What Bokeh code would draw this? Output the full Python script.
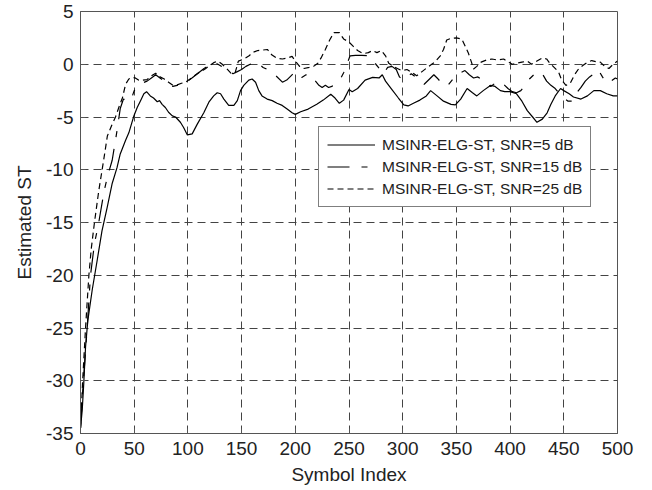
from bokeh.plotting import figure
from bokeh.models import Range1d, FixedTicker
from bokeh.embed import file_html
from bokeh.resources import INLINE

# ---- data ----
snr5 = [(0, -34.5), (1.6, -32.8), (3, -30.3), (4.7, -26.8), (6.8, -24.3), (10.9, -21.4), (15.5, -18.6),
        (20, -15.8), (24.8, -13.6), (29.5, -11.3), (34, -9.8), (37, -8.5), (42, -7.2), (45, -6.5),
        (49.7, -4.9), (52.8, -4.1), (55.9, -3.45), (59, -2.8), (61.5, -2.6), (65, -3.0), (68, -3.2),
        (71.5, -3.55), (73.6, -3.45), (76, -3.8), (79, -4.1), (82, -4.55), (85.5, -4.9), (88.5, -5.0),
        (93, -5.5), (96, -6.0), (99.5, -6.7), (104, -6.6), (108.6, -5.7), (114.8, -4.6), (119.5, -3.6),
        (124, -3.0), (127.3, -2.7), (130.4, -2.8), (133.5, -3.3), (138, -3.9), (142.8, -3.9), (146, -3.45),
        (149, -2.5), (152, -2.0), (156.7, -1.5), (159.8, -1.4), (163, -1.7), (166, -2.5), (169, -3.0),
        (173.8, -3.3), (178.5, -3.45), (183, -3.7), (187.8, -3.9), (192.4, -4.25), (197, -4.6), (200, -4.75),
        (205, -4.5), (212, -4.25), (220, -3.8), (226, -3.4), (233, -2.85), (237, -3.2), (241, -3.7),
        (245, -3.4), (250, -2.4), (253, -2.6), (258, -2.3), (265, -1.5), (272, -1.25), (278, -1.3),
        (281, -1.0), (284, -1.6), (290, -2.4), (296, -3.2), (301, -3.85), (305, -3.95), (310, -3.7),
        (316, -3.4), (322, -3.0), (326, -2.5), (332, -3.0), (338, -3.5), (345, -3.8), (349, -3.85),
        (354, -3.3), (360, -2.3), (365, -2.7), (369, -3.0), (375, -2.5), (382, -2.0), (386, -2.1),
        (391, -2.5), (395, -2.6), (400, -2.6), (406, -2.8), (411, -3.5), (416, -4.4), (421, -5.0),
        (425, -5.5), (430, -5.2), (434.5, -4.6), (438, -3.8), (442, -3.0), (447, -2.3), (450, -2.5),
        (455, -2.8), (459, -3.1), (466, -3.3), (472, -3.0), (478, -2.5), (484, -2.5), (490, -2.8),
        (496, -3.0), (500, -3.0)]

snr15 = [(0, -34.5), (2, -31), (6.2, -25), (9.3, -20), (13, -17), (17, -15), (22, -12), (25.5, -10.5),
         (29.5, -9.1), (34, -6.3), (37, -4.2), (40, -3.3), (44, -3.5), (47, -3.4), (50, -2.5), (53, -2.2),
         (57, -1.8), (62, -1.6), (66, -1.3), (70, -1.0), (74, -1.3), (78, -1.6), (82, -1.8), (86, -2.1),
         (90, -2.0), (95, -1.8), (100, -1.6), (105, -1.2), (110, -0.8), (115, -0.4), (120, -0.1), (124, 0.2),
         (128, 0.0), (133, -0.3), (138, -0.6), (142, -0.9), (146, -0.7), (150, -0.5), (154, -0.2), (158, 0.0),
         (164, 0.2), (170, -0.3), (176, -0.6), (182, -1.1), (188, -1.7), (192, -1.5), (196, -1.1), (200, -0.7),
         (203, -0.9), (206, -1.25), (210, -1.0), (214, -0.95), (218, -1.5), (222, -2.0), (225, -2.2),
         (228, -2.0), (231, -2.2), (234, -2.1), (238, -1.8), (242, -1.4), (245, -0.8), (248, 0.0), (251, 0.8),
         (256, 0.85), (262, 0.85), (268, 0.8), (271, 0.6), (275, 0.0), (279, -0.5), (282, -0.9), (286, -0.3),
         (290, -0.2), (294, -0.5), (297, -1.2), (300, -1.5), (304, -1.2), (308, -0.9), (312, -1.2), (316, -1.6),
         (320, -1.9), (325, -1.4), (329, -1.0), (333, -1.4), (338, -2.0), (342, -2.0), (346, -1.5), (350, -1.0),
         (354, -0.8), (358, -0.6), (362, -1.0), (366, -1.3), (370, -1.2), (374, -1.5), (378, -1.9), (382, -2.1),
         (386, -1.8), (390, -1.6), (394, -1.9), (398, -2.3), (402, -2.6), (406, -2.7), (410, -2.5), (414, -2.0),
         (418, -1.4), (422, -1.0), (426, -0.7), (430, -0.9), (434, -1.6), (438, -2.0), (442, -2.3), (446, -2.8),
         (450, -3.2), (454, -3.5), (458, -3.5), (462, -2.7), (466, -2.2), (470, -1.6), (474, -1.2), (478, -0.9),
         (482, -0.5), (486, -1.2), (490, -1.8), (494, -1.6), (498, -1.3), (500, -1.4)]

snr25 = [(0, -34.5), (2, -30), (4.7, -25), (7.8, -20), (10, -17.5), (13, -15), (17, -12), (21.7, -9),
         (25, -6.8), (29, -5.8), (32.6, -5.0), (36, -4.0), (39, -3.2), (42, -1.9), (45, -1.4), (48, -1.25),
         (51, -1.3), (54, -1.5), (58, -1.5), (62, -1.45), (66, -1.1), (70, -0.85), (74, -1.2), (78, -1.4),
         (82, -1.7), (86, -2.0), (90, -1.95), (94, -1.8), (98, -1.7), (102, -1.4), (106, -1.1), (110, -0.8),
         (116, -0.45), (120, -0.15), (124, 0.15), (128, 0.3), (132, 0.0), (136, -0.4), (140, -0.85),
         (144, -0.8), (147, 0.3), (152, 0.5), (157, 0.8), (160, 1.1), (165, 1.3), (170, 1.35), (174, 1.4),
         (178, 0.9), (183, 0.55), (188, 0.5), (193, 0.6), (197, 0.75), (200, 0.3), (204, -0.2), (208, -0.4),
         (213, -0.3), (217, -0.2), (221, 0.1), (224, 0.6), (228, 1.4), (232, 2.3), (236, 3.0), (241, 3.0),
         (245, 2.4), (250, 2.1), (254, 1.7), (258, 1.3), (263, 1.0), (268, 1.1), (272, 1.3), (276, 1.1),
         (280, 1.3), (284, 0.8), (287, 0.1), (291, -0.2), (295, -0.4), (299, -0.6), (304, -0.5), (309, -0.8),
         (313, -1.1), (318, -0.7), (323, -0.3), (327, 0.0), (330, 0.2), (335, 0.8), (338, 1.4), (341, 2.3),
         (345, 2.45), (350, 2.5), (355, 2.4), (358, 1.75), (361, 1.1), (364, 0.2), (366, -0.45), (369, -0.2),
         (373, 0.2), (378, 0.4), (383, 0.5), (388, 0.4), (394, 0.5), (397, 0.3), (402, 0.0), (406, 0.1),
         (411, 0.2), (416, 0.3), (420, 0.0), (425, 0.3), (430, 0.6), (434, 0.5), (437, 0.1), (441, -0.3),
         (445, -0.7), (448, -1.5), (452, -2.0), (456, -1.8), (460, -1.0), (464, -0.4), (468, -0.1), (472, 0.2),
         (476, 0.35), (480, 0.25), (484, 0.2), (488, -0.2), (492, -0.4), (496, 0.0), (500, 0.3)]

labels = ["MSINR-ELG-ST, SNR=5 dB", "MSINR-ELG-ST, SNR=15 dB", "MSINR-ELG-ST, SNR=25 dB"]
x_ticks = list(range(0, 501, 50))
y_ticks = list(range(-35, 6, 5))

FONT = "Liberation Sans"

p = figure(width=644, height=490, output_backend="svg", toolbar_location=None,
           x_range=Range1d(0, 500), y_range=Range1d(-35, 5),
           min_border_left=80, min_border_right=27, min_border_top=11, min_border_bottom=57)
p.background_fill_color = "white"
p.outline_line_color = "#555555"
p.outline_line_width = 1

series = [(snr5, "solid", labels[0]), (snr15, "22 12 6 12", labels[1]), (snr25, "6 4", labels[2])]
for data, dash, lab in series:
    xs = [d[0] for d in data]
    ys = [d[1] for d in data]
    p.line(xs, ys, line_color="black", line_width=1.2, line_dash=dash, legend_label=lab)

for ax in (p.xaxis[0], p.yaxis[0]):
    ax.axis_line_color = "#555555"
    ax.major_tick_line_color = "#555555"
    ax.major_tick_in = 5
    ax.major_tick_out = 0
    ax.minor_tick_line_color = None
    ax.major_label_text_font = FONT
    ax.major_label_text_font_size = "19px"
    ax.major_label_text_color = "#222222"
    ax.axis_label_text_font = FONT
    ax.axis_label_text_font_size = "19px"
    ax.axis_label_text_font_style = "normal"
    ax.axis_label_text_color = "#222222"

p.xaxis.ticker = FixedTicker(ticks=x_ticks)
p.yaxis.ticker = FixedTicker(ticks=y_ticks)
p.xaxis.major_label_overrides = {t: str(t) for t in x_ticks}
p.yaxis.major_label_overrides = {t: str(t) for t in y_ticks}
p.xaxis.axis_label = "Symbol Index"
p.yaxis.axis_label = "Estimated ST"
p.xaxis.major_label_standoff = 8
p.yaxis.major_label_standoff = 7
p.xaxis.axis_label_standoff = 6
p.yaxis.axis_label_standoff = 8

for g in (p.xgrid[0], p.ygrid[0]):
    g.grid_line_color = "#444444"
    g.grid_line_dash = "8 5"
    g.grid_line_width = 1

lg = p.legend[0]
lg.location = (238, 226)
lg.border_line_color = "black"
lg.border_line_width = 1
lg.background_fill_color = "white"
lg.background_fill_alpha = 1
lg.label_text_font = FONT
lg.label_text_font_size = "15.5px"
lg.label_text_color = "#222222"
lg.glyph_width = 48
lg.glyph_height = 19
lg.label_height = 19
lg.label_standoff = 7
lg.spacing = 3
lg.padding = 8
lg.margin = 0

open("out.html", "w").write(file_html(p, INLINE))
